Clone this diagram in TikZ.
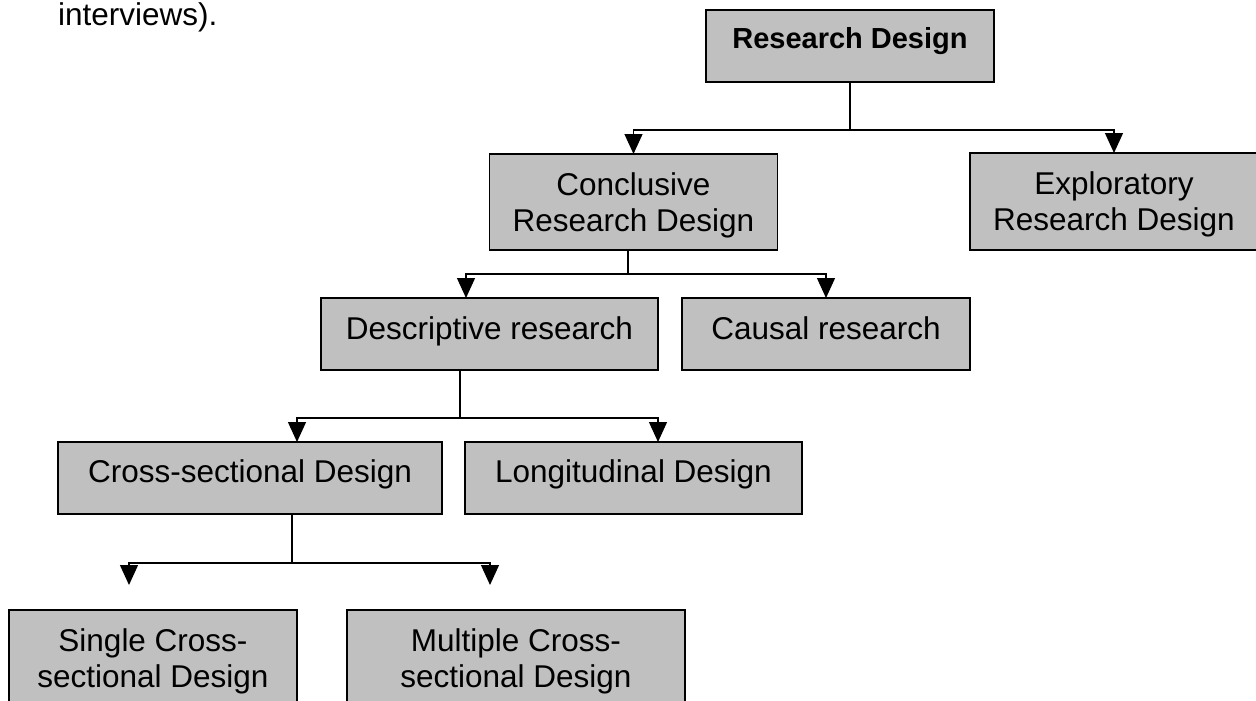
\documentclass[tikz,border=0pt]{standalone}
\usepackage{fontspec}
\setmainfont{Liberation Sans}
\usetikzlibrary{arrows.meta}
\definecolor{boxgray}{HTML}{C0C0C0}

\begin{document}
\begin{tikzpicture}[
    x=1pt, y=-1pt,
    block/.style n args={2}{
        draw,
        line width=1.3pt,
        fill=boxgray,
        minimum width=#1,
        minimum height=#2,
        inner sep=0pt,
        outer sep=0pt
    },
    boxtext/.style={font=\fontsize{31.5}{36}\selectfont, align=center, inner sep=0pt, anchor=base},
    link/.style={line width=1.3pt},
    arr/.style={link, -{Triangle[width=18pt,length=20pt]}}
]
\useasboundingbox (0,0) rectangle (1256,701);

% --- box sizes (pt, one pt per pixel of the reference) ---
\def\wS{288pt}   % small box width
\def\wM{337pt}   % medium box width
\def\wL{384pt}   % wide box width
\def\hS{72pt}    % one-line box height
\def\hD{97pt}    % two-line box height

% ---- running text above the chart ----
\node[font=\fontsize{31.5}{36}\selectfont, anchor=base west, inner sep=0pt]
    (intro) at (58,26) {interviews).};

% ---- Level 0 ----
\node[block={\wS}{\hS}] (rd) at (850,46) {};
\node[boxtext, font=\fontsize{29}{34}\selectfont\bfseries, yshift=-39pt] at (rd.north)
    {Research Design};

% ---- Level 1 ----
\node[block={\wS}{96pt}] (crd) at (633.5,202) {};
\node[boxtext, yshift=-77pt] at (crd.north) {Conclusive\\Research Design};

\node[block={\wS}{\hD}] (erd) at (1114,201.5) {};
\node[boxtext, yshift=-77pt] at (erd.north) {Exploratory\\Research Design};

% ---- Level 2 ----
\node[block={\wM}{\hS}] (desc) at (489.5,334) {};
\node[boxtext, yshift=-41pt] at (desc.north) {Descriptive research};

\node[block={\wS}{\hS}] (causal) at (826,334) {};
\node[boxtext, yshift=-41pt] at (causal.north) {Causal research};

% ---- Level 3 ----
\node[block={\wL}{\hS}] (cross) at (250,478) {};
\node[boxtext, yshift=-40pt] at (cross.north) {Cross-sectional Design};

\node[block={\wM}{\hS}] (longi) at (633.5,478) {};
\node[boxtext, yshift=-40pt] at (longi.north) {Longitudinal Design};

% ---- Level 4 (cut off by the page) ----
\node[block={\wS}{120pt}] (single) at (153,670) {};
\node[boxtext, yshift=-77pt] at (single.north) {Single Cross-\\sectional Design};

\node[block={338pt}{120pt}] (multi) at (516,670) {};
\node[boxtext, yshift=-77pt] at (multi.north) {Multiple Cross-\\sectional Design};

% ---- connectors ----
\draw[link] (rd.south) -- ++(0,48) coordinate (rdfork);
\draw[arr] (rdfork) -| (crd.north);
\draw[arr] (rdfork) -| (erd.north);

\draw[link] ([xshift=-5.5pt]crd.south) -- ++(0,24) coordinate (crdfork);
\draw[arr] (crdfork) -| ([xshift=-23.5pt]desc.north);
\draw[arr] (crdfork) -| (causal.north);

\draw[link] ([xshift=-29.5pt]desc.south) -- ++(0,48) coordinate (descfork);
\draw[arr] (descfork) -| ([xshift=47pt]cross.north);
\draw[arr] (descfork) -| ([xshift=24.5pt]longi.north);

\draw[link] ([xshift=42pt]cross.south) -- ++(0,49) coordinate (crossfork);
\draw[arr, shorten >=25pt] (crossfork) -| ([xshift=-24pt]single.north);
\draw[arr, shorten >=25pt] (crossfork) -| ([xshift=-26pt]multi.north);

\end{tikzpicture}
\end{document}
